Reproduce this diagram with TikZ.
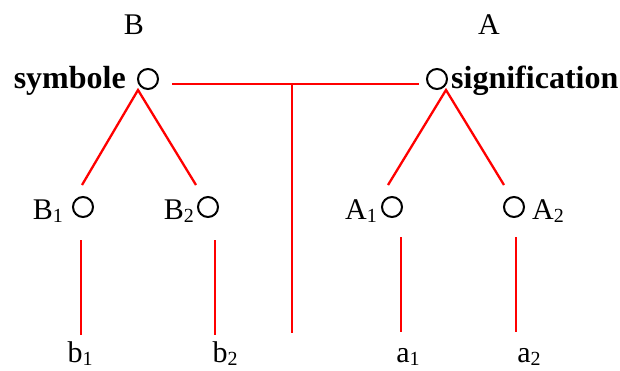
\documentclass[tikz,border=0pt]{standalone}
\usepackage{fontspec}
\setmainfont{Liberation Serif}
\usepackage{tikz}
\usetikzlibrary{positioning, calc}
\definecolor{linkred}{RGB}{255,0,0}
\newcommand{\subidx}[1]{\raisebox{-0.1em}{\fontsize{20}{20}\selectfont #1}}

\begin{document}
\begin{tikzpicture}[x=1pt, y=-1pt, font=\fontsize{30}{34}\selectfont,
  dot/.style={circle, draw=black, line width=2pt, minimum size=20pt, inner sep=0pt},
  lbl/.style={inner sep=0pt},
  head/.style={inner sep=0pt, font=\fontsize{32}{36}\selectfont\bfseries},
  link/.style={draw=linkred, line width=2.3pt}]
  \useasboundingbox (0,0) rectangle (620,370);
  % top level
  \node[lbl] (labB) at (134,25) {B};
  \node[lbl] (labA) at (489,25) {A};
  \node[dot] (symc) at (148,79) {};
  \node[dot] (signc) at (437,79) {};
  \node[head, anchor=base east] (symbole) at (126,88) {symbole};
  \node[head, anchor=base west] (signif) at (451,88) {signification};
  % second level
  \node[dot] (B1c) at (83,207) {};
  \node[dot] (B2c) at (208,207) {};
  \node[dot] (A1c) at (392,207) {};
  \node[dot] (A2c) at (514,207) {};
  \node[lbl, anchor=base east] (B1) at (63,219) {B\subidx{1}};
  \node[lbl, anchor=base east] (B2) at (194,219) {B\subidx{2}};
  \node[lbl, anchor=base east] (A1) at (377,219) {A\subidx{1}};
  \node[lbl, anchor=base west] (A2) at (532,219) {A\subidx{2}};
  % bottom
  \node[lbl, anchor=base] (b1) at (80,362) {b\subidx{1}};
  \node[lbl, anchor=base] (b2) at (225,362) {b\subidx{2}};
  \node[lbl, anchor=base] (a1) at (408,362) {a\subidx{1}};
  \node[lbl, anchor=base] (a2) at (529,362) {a\subidx{2}};
  % line ends
  \coordinate (symtip) at (138,90);
  \coordinate (signtip) at (446,90);
  \coordinate (mid) at (292,84);
  \coordinate (midfoot) at (292,333);
  \draw[link] ([xshift=13pt,yshift=-5pt]symc.east) -- ([xshift=-7pt,yshift=-5pt]signc.west);
  \draw[link] (mid) -- (midfoot);
  \draw[link] (82,185) -- (symtip) -- (196,185);
  \draw[link] (388,185) -- (signtip) -- (504,185);
  \draw[link] (81,240) -- (81,335);
  \draw[link] (215,240) -- (215,335);
  \draw[link] (401,237) -- (401,332);
  \draw[link] (516,237) -- (516,332);
\end{tikzpicture}
\end{document}
